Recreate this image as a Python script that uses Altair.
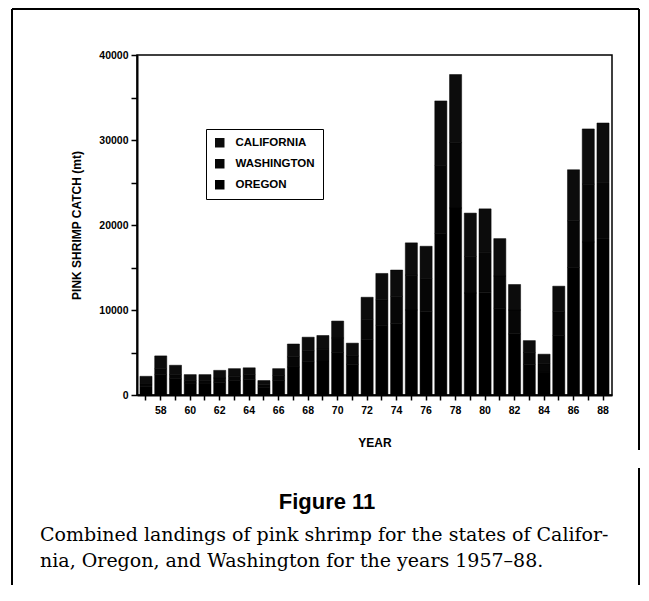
import altair as alt
import pandas as pd

years = list(range(1957, 1989))
oregon = [1000, 2400, 1900, 1400, 1300, 1500, 1700, 1800, 900, 1700,
          3300, 3900, 4000, 5000, 3600, 6500, 8200, 8400, 10000, 9800,
          19000, 22000, 12000, 12100, 10200, 7200, 3600, 2700, 7000, 15000,
          18000, 18400]
washington = [300, 700, 500, 300, 400, 500, 500, 600, 300, 600,
              1200, 1300, 1400, 1700, 1000, 2400, 3000, 3200, 4100, 3900,
              8000, 7700, 4300, 4700, 3800, 2800, 1400, 1000, 2800, 5500,
              6800, 6600]
california = [900, 1500, 1100, 700, 700, 900, 900, 800, 500, 800,
              1500, 1600, 1600, 2000, 1500, 2600, 3100, 3100, 3800, 3800,
              7600, 8000, 5100, 5100, 4400, 3000, 1400, 1100, 3000, 6000,
              6500, 7000]
states = ["CALIFORNIA", "WASHINGTON", "OREGON"]
state_colors = ["#0c0c0c", "#060606", "#000000"]
y_ticks = [0, 5000, 10000, 15000, 20000, 25000, 30000, 35000, 40000]

rows = []
for i, y in enumerate(years):
    rows.append({"Year": y, "State": "OREGON", "Catch": oregon[i], "ord": 0})
    rows.append({"Year": y, "State": "WASHINGTON", "Catch": washington[i], "ord": 1})
    rows.append({"Year": y, "State": "CALIFORNIA", "Catch": california[i], "ord": 2})
df = pd.DataFrame(rows)

FONT = "Liberation Sans"

bars = alt.Chart(df).mark_bar(stroke="black", strokeWidth=0.5).encode(
    x=alt.X("Year:O",
            scale=alt.Scale(paddingInner=0.18, paddingOuter=0.2),
            axis=alt.Axis(title="YEAR", labelAngle=0, labelOverlap=False,
                          labelExpr="datum.value % 2 == 0 ? substring(datum.label, 2, 4) : ''",
                          bandPosition=0.5, tickSize=5, tickWidth=1.5,
                          tickColor="black", domainColor="black", domainWidth=2,
                          labelFont=FONT, labelFontWeight="bold", labelFontSize=10.5,
                          labelColor="black", labelPadding=5,
                          titleFont=FONT, titleFontWeight="bold", titleFontSize=12,
                          titleColor="black", titlePadding=22)),
    y=alt.Y("Catch:Q", stack="zero",
            scale=alt.Scale(domain=[0, 40000], nice=False),
            axis=alt.Axis(title="PINK SHRIMP CATCH (mt)", values=y_ticks,
                          labelExpr="datum.value % 10000 == 0 ? datum.value : ''",
                          grid=False, tickSize=6, tickWidth=1.5, tickColor="black",
                          domainColor="black", domainWidth=2,
                          labelFont=FONT, labelFontWeight="bold", labelFontSize=10.5,
                          labelColor="black", labelPadding=3,
                          titleFont=FONT, titleFontWeight="bold", titleFontSize=12,
                          titleColor="black", titlePadding=15)),
    color=alt.Color("State:N",
                    scale=alt.Scale(domain=states, range=state_colors),
                    legend=alt.Legend(title=None, orient="none", legendX=69, legendY=74,
                                      symbolType="square", symbolSize=90,
                                      symbolStrokeWidth=0,
                                      labelFont=FONT, labelFontWeight="bold",
                                      labelFontSize=11.5, labelColor="black",
                                      rowPadding=8, padding=8,
                                      strokeColor="black", fillColor="white",
                                      labelOffset=10)),
    order=alt.Order("ord:Q", sort="ascending"),
)

one = pd.DataFrame({"a": [0]})

def hrule(x1, x2, y, w=2):
    return alt.Chart(one).mark_rule(color="black", strokeWidth=w).encode(
        x=alt.value(x1), x2=alt.value(x2), y=alt.value(y))

def vrule(x, y1, y2, w=2):
    return alt.Chart(one).mark_rule(color="black", strokeWidth=w).encode(
        x=alt.value(x), y=alt.value(y1), y2=alt.value(y2))

frame = [
    hrule(-125, 502, -46),
    vrule(-125, -46, 530),
    vrule(502, -46, 395),
    vrule(502, 413, 530),
]

def text(s, x, y, size, font, weight="normal", align="left"):
    return alt.Chart(one).mark_text(text=s, font=font, fontSize=size, fontWeight=weight,
                                    align=align, baseline="alphabetic", color="black").encode(
        x=alt.value(x), y=alt.value(y))

texts = [
    text("Figure 11", 190, 454, 22, FONT, "bold", "center"),
    text("Combined landings of pink shrimp for the states of Califor-", -97, 486, 19, "DejaVu Serif"),
    text("nia, Oregon, and Washington for the years 1957\u201388.", -97, 512, 19, "DejaVu Serif"),
]

chart = alt.layer(bars, *frame, *texts).properties(
    width=475, height=340,
    autosize=alt.AutoSizeParams(type="none"),
    padding={"left": 129, "top": 47, "right": 29, "bottom": 191},
    background="white",
).configure_view(stroke="black", strokeWidth=1.5)

chart.save("out.html", embed_options={"renderer": "svg", "actions": False})
